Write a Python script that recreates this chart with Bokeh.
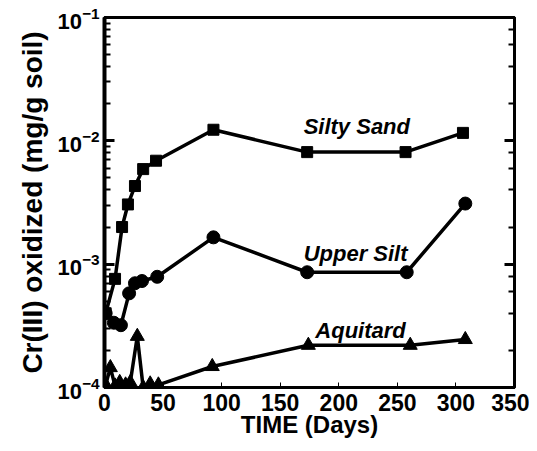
from bokeh.plotting import figure
from bokeh.models import LogAxis, Label, Range1d, SingleIntervalTicker, LogTicker
from bokeh.embed import file_html
from bokeh.resources import INLINE

# ---- data ----
days_sand = [1, 9, 15, 20, 26, 33, 44, 93, 173, 257, 306]
silty_sand = [4.0e-4, 7.6e-4, 2.0e-3, 3.05e-3, 4.3e-3, 5.9e-3, 6.9e-3, 1.23e-2, 8.1e-3, 8.1e-3, 1.16e-2]

days_silt = [1, 8, 14, 21, 26, 32, 45, 93, 173, 258, 308]
upper_silt = [4.0e-4, 3.35e-4, 3.2e-4, 5.8e-4, 7.0e-4, 7.3e-4, 7.9e-4, 1.65e-3, 8.6e-4, 8.6e-4, 3.1e-3]

days_aq = [1, 5, 9, 13, 18, 22, 28, 33, 39, 46, 92, 174, 261, 308]
aquitard = [1.05e-4, 1.45e-4, 1.03e-4, 1.1e-4, 1.05e-4, 1.1e-4, 2.6e-4, 1.0e-4, 1.07e-4, 1.05e-4,
            1.48e-4, 2.2e-4, 2.2e-4, 2.45e-4]

series_names = ["Silty Sand", "Upper Silt", "Aquitard"]
x_label = "TIME (Days)"
y_label = "Cr(III) oxidized (mg/g soil)"

FONT = "Liberation Sans"

p = figure(width=529, height=443, y_axis_type="log",
           x_range=Range1d(0, 350), y_range=Range1d(1e-4, 1e-1),
           output_backend="svg", toolbar_location=None,
           min_border_left=104, min_border_right=15, min_border_top=17, min_border_bottom=56)

p.grid.visible = False
p.background_fill_color = "white"
p.outline_line_color = "black"
p.outline_line_width = 3

# lines + markers
p.line(days_sand, silty_sand, line_color="black", line_width=3.5)
p.scatter(days_sand, silty_sand, marker="square", size=11, fill_color="black", line_color="black")

p.line(days_silt, upper_silt, line_color="black", line_width=3.5)
p.scatter(days_silt, upper_silt, marker="circle", size=13, fill_color="black", line_color="black")

p.line(days_aq, aquitard, line_color="black", line_width=3.5)
p.scatter(days_aq, aquitard, marker="triangle", size=14, fill_color="black", line_color="black")

# series labels (left edge, baseline)
label_pos = [(170, 1.30e-2), (170, 1.21e-3), (180, 2.9e-4)]
for name, (lx, ly) in zip(series_names, label_pos):
    p.add_layout(Label(x=lx, y=ly, text=name, text_font=FONT, text_font_size="22px",
                       text_font_style="bold italic", text_baseline="alphabetic", text_align="left",
                       text_color="black"))

# x axis
xa = p.xaxis[0]
xa.ticker = SingleIntervalTicker(interval=50)
xa.axis_label = x_label
xa.axis_label_text_font = FONT
xa.axis_label_text_font_size = "24px"
xa.axis_label_text_font_style = "bold"
xa.axis_label_text_color = "black"
xa.axis_label_standoff = -3
xa.major_label_text_font = FONT
xa.major_label_text_font_size = "23px"
xa.major_label_text_font_style = "bold"
xa.major_label_text_color = "black"
xa.major_label_standoff = 6
xa.axis_line_width = 3
xa.major_tick_in = 5
xa.major_tick_out = 0
xa.minor_tick_in = 0
xa.minor_tick_out = 0

# y axis
ya = p.yaxis[0]
ya.axis_label = y_label
ya.axis_label_text_font = FONT
ya.axis_label_text_font_size = "28px"
ya.axis_label_text_font_style = "bold"
ya.axis_label_text_color = "black"
ya.axis_label_standoff = 6
ya.major_label_text_font = FONT
ya.major_label_text_font_size = "22px"
ya.major_label_text_font_style = "bold"
ya.major_label_text_color = "black"
ya.major_label_standoff = 5
ya.axis_line_width = 4
ya.major_tick_in = 10
ya.major_tick_out = 0
ya.minor_tick_in = 6
ya.minor_tick_out = 0
ya.major_tick_line_width = 3
ya.minor_tick_line_width = 2

# right axis (ticks only)
ra = LogAxis(ticker=LogTicker())
ra.major_label_text_color = None
ra.major_label_text_font_size = "1px"
ra.axis_line_width = 3
ra.major_tick_in = 10
ra.major_tick_out = 0
ra.minor_tick_in = 6
ra.minor_tick_out = 0
ra.major_tick_line_width = 3
ra.minor_tick_line_width = 2
p.add_layout(ra, "right")

open("out.html", "w").write(file_html(p, INLINE))
